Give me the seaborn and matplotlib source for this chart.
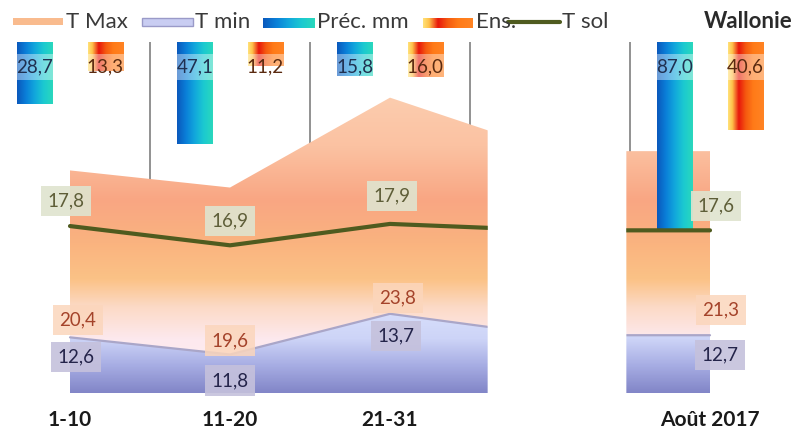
import numpy as np
import pandas as pd
import seaborn as sns
import matplotlib
matplotlib.use("Agg")
import matplotlib.pyplot as plt
from matplotlib.colors import LinearSegmentedColormap
from matplotlib.patches import Rectangle
from matplotlib.lines import Line2D

sns.set_style("white")
plt.rcParams["font.family"] = ["Lato", "DejaVu Sans"]

# --- data -------------------------------------------------------------
categories = ["1-10", "11-20", "21-31", "", "Août 2017"]
t_max = [20.4, 19.6, 23.8, 21.3, 21.3]
t_min = [12.6, 11.8, 13.7, 12.7, 12.7]
t_sol = [17.8, 16.9, 17.9, 17.6, 17.6]
bar_periods = ["1-10", "11-20", "21-31", "Août 2017"]
prec = [28.7, 47.1, 15.8, 87.0]
ens = [13.3, 11.2, 16.0, 40.6]
labelled = [0, 1, 2, 4]

# label nudges in pixels (dx, dy) for each labelled point
nudge_sol = [(-4, 25), (0, 24), (2, 28), (6, 24)]
nudge_max = [(8, 17), (0, 14), (8, 16), (11, 25)]
nudge_min = [(6, -20), (0, -26), (6, -22), (10, -20)]

positions = list(range(len(categories)))
y_low, y_high = 10, 26.4
gap_from, gap_to = 2.61, 3.47


def fmt(v):
    return f"{v:.1f}".replace(".", ",")


fig = plt.figure(figsize=(7.92, 4.30), dpi=100)
rect = [0, 1 - 393 / 430, 1, 351 / 430]
ax = fig.add_axes(rect)
ax2 = ax.twinx()
ax3 = fig.add_axes(rect, sharex=ax, sharey=ax)
ax3.patch.set_visible(False)

# separators between periods
ax.vlines([0.5, 1.5, 2.5, 3.5], y_low, y_high, color="#7f7f7f", lw=1.2, zorder=0)


def gradient_area(axis, top, stops, z):
    poly = axis.fill_between(positions, y_low, top, facecolor="none",
                             edgecolor="none", zorder=z)
    cmap = LinearSegmentedColormap.from_list(
        "area", [((v - y_low) / (y_high - y_low), c) for v, c in stops])
    img = axis.imshow(np.linspace(0, 1, 256).reshape(-1, 1), cmap=cmap,
                      aspect="auto", origin="lower", zorder=z,
                      extent=(positions[0], positions[-1], y_low, y_high))
    img.set_clip_path(poly.get_paths()[0], transform=axis.transData)


gradient_area(ax, t_max, [(10, "#fdf0f4"), (12.5, "#fde9ee"), (14.0, "#fcdac6"),
                          (15.3, "#fbc286"), (17.0, "#fab37f"), (19.0, "#f9a683"),
                          (21.5, "#fbc2a2"), (26.4, "#fcd8bc")], 1)
gradient_area(ax, t_min, [(10, "#8286c8"), (11.3, "#a8aee4"), (12.5, "#cdd4f7"),
                          (14.0, "#d9e0fc"), (26.4, "#e0e6fd")], 2)
ax.plot(positions, t_min, color="#aaa6c8", lw=1.6, zorder=3)
ax.axvspan(gap_from, gap_to, color="white", zorder=5)

# precipitation / sunshine bars hanging from the top
bars = pd.DataFrame({
    "period": bar_periods * 2,
    "value": prec + ens,
    "serie": ["Préc. mm"] * len(prec) + ["Ens."] * len(ens),
})
sns.barplot(data=bars, x="period", y="value", hue="serie", order=categories,
            hue_order=["Préc. mm", "Ens."], width=0.88, gap=0.5,
            errorbar=None, legend=False, ax=ax2)

blue = LinearSegmentedColormap.from_list(
    "prec", ["#0a58bc", "#0a7fd8", "#12a8dc", "#1ccad0", "#2ad8bc"])
fire = LinearSegmentedColormap.from_list(
    "ens", [(0, "#ffe27a"), (0.12, "#ffc24a"), (0.3, "#e8180c"),
            (0.5, "#f55a10"), (0.7, "#ff7a18"), (1, "#ff8424")])
text_cols = ["#1f3050", "#5a2a10"]
for cont, cmap, tc in zip(ax2.containers, [blue, fire], text_cols):
    for p, v in zip(cont.patches, cont.datavalues):
        if np.isnan(v):
            continue
        x0, w, h = p.get_x(), p.get_width(), p.get_height()
        ax2.imshow(np.linspace(0, 1, 256).reshape(1, -1), cmap=cmap, aspect="auto",
                   extent=(x0, x0 + w, 0, h), zorder=2)
        p.set_visible(False)
        ax2.annotate(fmt(v), (x0 + w / 2, 0), xytext=(0, -25), textcoords="offset pixels",
                     ha="center", va="center", fontsize=13.5, color=tc, zorder=4,
                     bbox=dict(boxstyle="square,pad=0.25", fc="white", ec="none", alpha=0.4))

# soil temperature line
sns.lineplot(x=positions, y=t_sol, color="#4f5b1f", lw=3, ax=ax3, zorder=2)
ax3.axvspan(gap_from, gap_to, color="white", zorder=3)

for k, i in enumerate(labelled):
    ax3.annotate(fmt(t_sol[i]), (i, t_sol[i]), xytext=nudge_sol[k], textcoords="offset pixels",
                 ha="center", va="center", fontsize=13.5, color="#5e5e38", zorder=6,
                 bbox=dict(boxstyle="square,pad=0.35", fc="#dfe4cf", ec="none", alpha=0.9))
    ax3.annotate(fmt(t_max[i]), (i, t_min[i]), xytext=nudge_max[k], textcoords="offset pixels",
                 ha="center", va="center", fontsize=13.5, color="#a4432a", zorder=6,
                 bbox=dict(boxstyle="square,pad=0.35", fc="#fbd6bc", ec="none", alpha=0.85))
    ax3.annotate(fmt(t_min[i]), (i, t_min[i]), xytext=nudge_min[k], textcoords="offset pixels",
                 ha="center", va="center", fontsize=13.5, color="#24244a", zorder=6,
                 bbox=dict(boxstyle="square,pad=0.35", fc="#c5c1dc", ec="none", alpha=0.9))

# axes cosmetics
x_left = -70 / 160
ax.set_xlim(x_left, x_left + 792 / 160)
ax.set_ylim(y_low, y_high)
ax2.set_ylim(351 / 2.17, 0)
ax.set_xticks(positions, categories)
ax.tick_params(axis="x", length=0, pad=12, labelsize=15, labelcolor="#1a1a1a")
for lab in ax.get_xticklabels():
    lab.set_fontweight("bold")
ax.set_yticks([])
ax2.set_yticks([])
ax3.set_yticks([])
ax3.tick_params(axis="x", labelbottom=False, length=0)
for a in (ax, ax2, ax3):
    a.set_xlabel("")
    a.set_ylabel("")
    for s in a.spines.values():
        s.set_visible(False)

# legend drawn in pixel space
lax = fig.add_axes([0, 1 - 40 / 430, 1, 40 / 430])
lax.set_xlim(0, 792)
lax.set_ylim(40, 0)
lax.axis("off")
lax.add_patch(Rectangle((13, 18), 50, 7, fc="#f9bb8e", ec="none"))
lax.add_patch(Rectangle((142, 18), 51, 8, fc="#c9cdf2", ec="#9a9ac8", lw=1))
lax.imshow(np.linspace(0, 1, 256).reshape(1, -1), cmap=blue, aspect="auto",
           extent=(263, 315, 28, 18))
lax.imshow(np.linspace(0, 1, 256).reshape(1, -1), cmap=fire, aspect="auto",
           extent=(423, 473, 28, 18))
lax.add_line(Line2D([508, 560], [22, 22], color="#4f5b1f", lw=3))
for x, txt in [(66, "T Max"), (195, "T min"), (317, "Préc. mm"), (476, "Ens."), (562, "T sol")]:
    lax.text(x, 22, txt, ha="left", va="center", fontsize=16, color="#3a3a3a")
lax.text(748, 21, "Wallonie", ha="center", va="center", fontsize=16,
         fontweight="bold", color="#2a2a2a")
lax.set_xlim(0, 792)
lax.set_ylim(40, 0)

fig.savefig("out.png", dpi=100)
